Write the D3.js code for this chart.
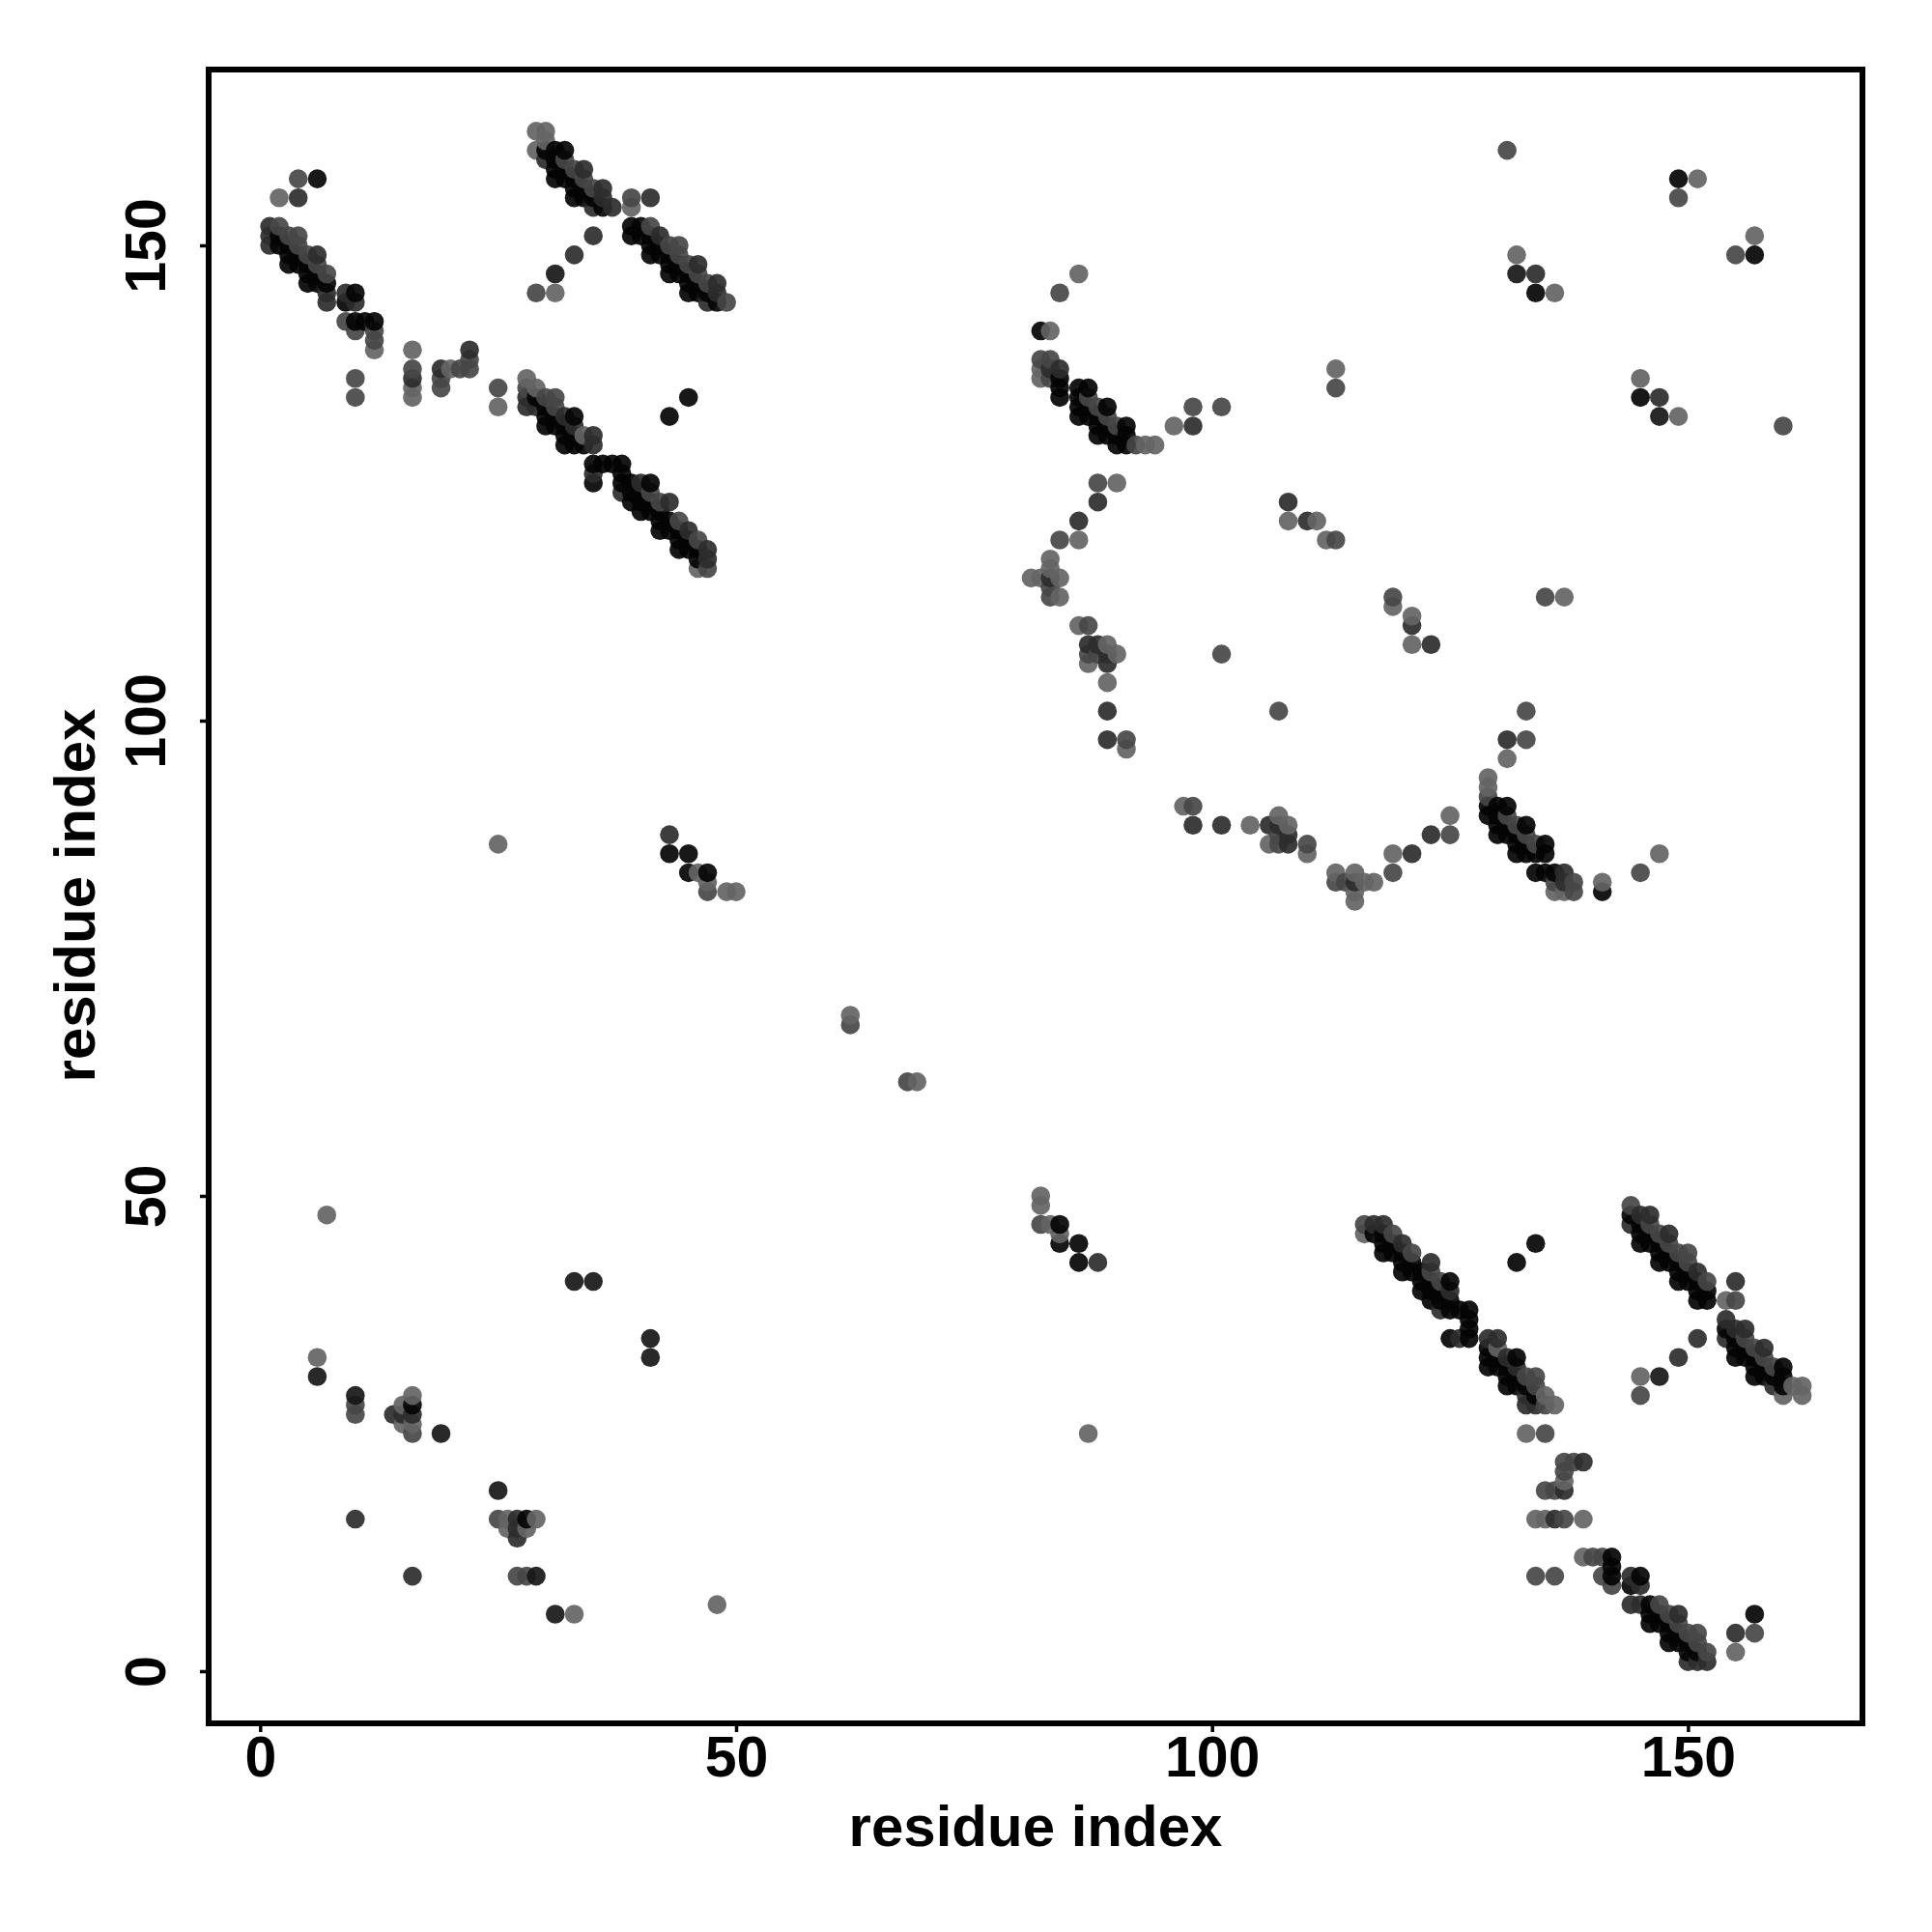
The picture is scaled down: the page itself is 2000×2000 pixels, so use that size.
<!DOCTYPE html>
<html>
<head>
<meta charset="utf-8">
<script src="https://cdn.jsdelivr.net/npm/d3@7"></script>
<style>
html,body{margin:0;padding:0;background:#fff}
svg{display:block}
text{font-family:"Liberation Sans",Arial,sans-serif;font-weight:700;fill:#000}
</style>
</head>
<body>
<div id="chart"></div>
<script>
// Contact pairs [residue a, residue b]; each pair is drawn in both triangles.
const contactsLight = [[2,155],[6,33],[7,48],[12,139],[15,26],[15,28],[16,25],[16,26],[16,29],[16,134],[16,135],[16,139],
[20,137],[25,87],[25,133],[28,136],[29,135],[29,160],[29,162],[30,161],[30,162],[31,145],[34,130],[39,154],[46,84],[46,116],
[47,83],[49,82],[50,82],[62,69],[81,115],[82,115],[82,136],[82,137],[83,116],[83,117],[83,141],[84,113],[84,115],
[86,110],[86,119],[86,147],[87,106],[89,104],[89,108],[90,107],[90,125],[91,97],[93,129],[94,129],[96,131],
[108,121],[111,121],[112,119],[113,137],[132,149],[136,145],[151,157]];
const contactsMid = [[2,152],[3,151],[4,150],[4,151],[4,157],[5,149],[6,148],[7,147],[9,142],[10,27],[10,28],[10,134],[10,136],[10,141],
[12,140],[12,141],[16,137],[19,135],[19,136],[21,137],[22,137],[22,138],[16,25],[25,135],[28,135],[29,145],
[30,134],[31,133],[31,134],[32,159],[33,158],[34,157],[35,156],[39,155],[41,124],[41,152],[42,123],[43,150],[44,121],[44,149],[44,150],
[45,148],[46,119],[46,147],[47,82],[47,116],[47,146],[49,144],[62,68],[82,138],[83,113],[83,114],[83,136],[83,138],
[84,119],[84,145],[87,107],[87,110],[87,134],[88,107],[88,125],[88,133],[89,132],[90,131],[91,98],[92,129],[98,133],[101,107],[101,133],
[113,119],[113,135],[131,160],[149,155]];
const contactsDark = [[1,150],[1,151],[1,152],[4,155],[6,149],[7,144],[7,145],[9,145],[10,16],[10,144],[14,27],[15,27],[16,27],[16,136],
[19,137],[22,139],[27,15],[27,16],[14,27],[28,133],[28,134],[29,133],[30,159],[32,132],[33,131],[33,149],
[34,158],[35,126],[35,129],[35,130],[35,151],[35,154],[36,155],[36,156],[37,154],[38,124],[40,125],[41,155],[42,151],[43,88],[43,123],
[45,120],[46,148],[47,117],[47,118],[47,144],[48,145],[48,146],[83,115],[83,137],[84,137],[86,121],[87,108],[88,108],[88,123],
[89,98],[89,101],[89,106],[89,107],[98,131],[108,123],[110,121],[134,147]];
const contactsDeep = [[6,31],[10,29],[19,25],[31,147],[33,41],[35,41],[41,33],[132,147]];
const contactsBlack = [[2,150],[2,151],[3,148],[3,149],[3,150],[4,148],[4,149],[5,146],[5,147],[5,148],[6,146],[6,147],[6,157],[7,146],
[9,144],[10,142],[10,145],[11,142],[12,142],[16,28],[29,134],[30,131],[30,132],[30,133],[30,160],[31,131],[31,132],[31,157],[31,158],[31,159],[31,160],
[32,129],[32,130],[32,131],[32,157],[32,158],[32,160],[33,129],[33,130],[33,132],[33,155],[33,156],[33,157],[34,129],[34,155],[34,156],
[35,125],[35,127],[35,155],[36,127],[36,154],[37,127],[38,125],[38,126],[38,127],[39,123],[39,124],[39,125],[39,151],[39,152],
[40,122],[40,123],[40,124],[40,151],[40,152],[41,122],[41,123],[41,125],[41,149],[41,150],[41,151],[42,120],[42,121],[42,122],[42,149],[42,150],
[43,86],[43,120],[43,121],[43,132],[43,147],[43,148],[43,149],[44,118],[44,119],[44,120],[44,147],[44,148],
[45,84],[45,86],[45,118],[45,119],[45,134],[45,145],[45,146],[45,147],[46,117],[46,118],[46,145],[46,146],[47,84],[47,145],[48,144],
[82,141],[84,134],[84,135],[84,136],[86,132],[86,133],[86,134],[86,135],[87,132],[87,133],[87,135],
[88,130],[88,131],[88,132],[89,130],[89,131],[89,133],[90,129],[90,130],[91,129],[91,130],[91,131],[134,145],[149,157]];

const shadeLevels = {light:112, mid:86, dark:62, deep:42, black:24};
const tickValues = [0,50,100,150];
const axisTitle = "residue index";

const W = 2000, H = 2000;
const frame = {left:216, right:1928, top:72, bottom:1784};
const dotRadius = 9.8, dotAlpha = 0.92;

const x = d3.scaleLinear().domain([0,150]).range([269.3,1747.4]);
const y = d3.scaleLinear().domain([0,150]).range([1730,254]);

function gather(list, shade){
  const out = [];
  list.forEach(([a,b]) => {
    const lo = Math.min(a,b), hi = Math.max(a,b);
    out.push({a:lo,b:hi,shade}, {a:hi,b:lo,shade});
  });
  return out;
}
// A pair can be read twice, once per triangle; keep the first reading only.
const seen = new Set();
const contacts = [
  ...gather(contactsBlack, shadeLevels.black),
  ...gather(contactsDeep, shadeLevels.deep),
  ...gather(contactsDark, shadeLevels.dark),
  ...gather(contactsMid, shadeLevels.mid),
  ...gather(contactsLight, shadeLevels.light)
].filter(d => { const k = d.a+"_"+d.b; if(seen.has(k)) return false; seen.add(k); return true; })
 .sort((p,q) => d3.ascending(p.a,q.a) || d3.ascending(p.b,q.b));

const svg = d3.select("#chart").append("svg").attr("width",W).attr("height",H);
svg.append("rect").attr("width",W).attr("height",H).attr("fill","#fff");

svg.append("g").selectAll("circle").data(contacts).join("circle")
  .attr("cx", d => x(d.a))
  .attr("cy", d => y(d.b))
  .attr("r", dotRadius)
  .attr("fill", d => {
    const c = Math.max(0, Math.round((d.shade - 255*(1-dotAlpha))/dotAlpha));
    return `rgba(${c},${c},${c},${dotAlpha})`;
  });

const gx = svg.append("g").attr("transform",`translate(0,${frame.bottom})`)
  .call(d3.axisBottom(x).tickValues(tickValues).tickSize(9).tickPadding(0));
gx.select(".domain").remove();
gx.selectAll("line").attr("stroke","#000").attr("stroke-width",3.5);
gx.selectAll("text").attr("font-size",59).attr("y",0).attr("dy",0)
  .attr("transform",`translate(0,${1839-frame.bottom})`).attr("text-anchor","middle");

const gy = svg.append("g").attr("transform",`translate(${frame.left},0)`)
  .call(d3.axisLeft(y).tickValues(tickValues).tickSize(9).tickPadding(0));
gy.select(".domain").remove();
gy.selectAll("line").attr("stroke","#000").attr("stroke-width",3.5);
gy.selectAll("text").attr("font-size",59).attr("x",0).attr("dy",0).attr("y",0)
  .attr("transform",`translate(${171-frame.left},0) rotate(-90)`).attr("text-anchor","middle");

svg.append("rect").attr("x",frame.left).attr("y",frame.top)
  .attr("width",frame.right-frame.left).attr("height",frame.bottom-frame.top)
  .attr("fill","none").attr("stroke","#000").attr("stroke-width",6);

svg.append("text").attr("x",1072).attr("y",1911).attr("text-anchor","middle").attr("font-size",60).text(axisTitle);
svg.append("text").attr("transform","translate(98,927) rotate(-90)").attr("text-anchor","middle").attr("font-size",60).text(axisTitle);
</script>
</body>
</html>
